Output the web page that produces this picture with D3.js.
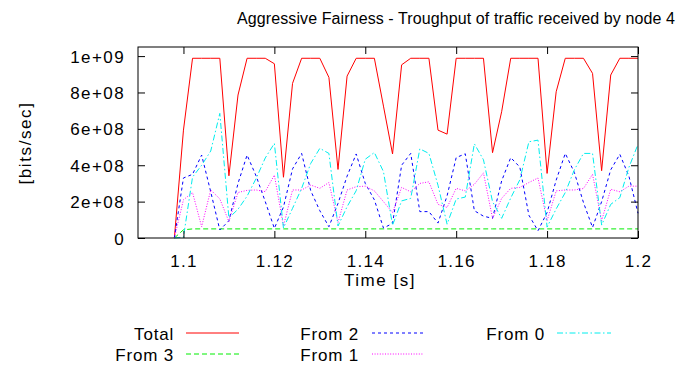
<!DOCTYPE html>
<html>
<head>
<meta charset="utf-8">
<script src="https://cdn.jsdelivr.net/npm/d3@7"></script>
<style>
  html, body { margin: 0; padding: 0; background: #fff; }
  svg { display: block; }
  text { font-family: "Liberation Sans", Arial, sans-serif; fill: #000; }
</style>
</head>
<body>
<svg id="chart" width="699" height="367"></svg>
<script>
// Sample times [s]
const times = [1.098, 1.100, 1.102, 1.104, 1.106, 1.108, 1.110, 1.112, 1.114, 1.116,
  1.118, 1.120, 1.122, 1.124, 1.126, 1.128, 1.130, 1.132, 1.134, 1.136,
  1.138, 1.140, 1.142, 1.144, 1.146, 1.148, 1.150, 1.152, 1.154, 1.156,
  1.158, 1.160, 1.162, 1.164, 1.166, 1.168, 1.170, 1.172, 1.174, 1.176,
  1.178, 1.180, 1.182, 1.184, 1.186, 1.188, 1.190, 1.192, 1.194, 1.196,
  1.198, 1.200];

// Throughput per source, in Mbit/s
const total = [0, 593, 988, 988, 988, 988, 342, 786, 988, 988,
  988, 958, 334, 850, 988, 988, 988, 883, 377, 890,
  988, 988, 988, 725, 462, 952, 988, 988, 988, 593,
  571, 988, 988, 988, 988, 469, 694, 988, 988, 988,
  988, 355, 804, 988, 988, 988, 905, 370, 896, 988,
  988, 988];
const from3 = [0, 45, 50, 50, 50, 50, 50, 50, 50, 50,
  50, 50, 50, 50, 50, 50, 50, 50, 50, 50,
  50, 50, 50, 50, 50, 50, 50, 50, 50, 50,
  50, 50, 50, 50, 50, 50, 50, 50, 50, 50,
  50, 50, 50, 50, 50, 50, 50, 50, 50, 50,
  50, 50];
const from2 = [0, 330, 350, 456, 254, 44, 95, 300, 456, 340,
  200, 53, 170, 380, 465, 260, 150, 62, 190, 340,
  462, 300, 210, 55, 80, 400, 465, 145, 145, 82,
  232, 442, 463, 150, 120, 108, 314, 442, 390, 125,
  40, 140, 318, 465, 360, 195, 58, 200, 375, 460,
  340, 136];
const from1 = [0, 210, 250, 62, 264, 215, 90, 250, 262, 264,
  255, 346, 66, 264, 264, 291, 273, 305, 85, 264,
  282, 285, 259, 200, 140, 278, 254, 300, 309, 185,
  168, 273, 259, 295, 358, 108, 218, 273, 278, 305,
  330, 95, 259, 264, 264, 272, 350, 95, 268, 254,
  285, 285];
const from0 = [0, 5, 335, 400, 478, 685, 110, 158, 230, 328,
  440, 520, 55, 163, 273, 410, 493, 465, 66, 172,
  260, 433, 470, 365, 70, 204, 218, 490, 465, 290,
  76, 214, 225, 518, 430, 200, 108, 220, 320, 529,
  538, 60, 160, 250, 375, 465, 465, 71, 185, 222,
  388, 515];

const seriesNames = ["Total", "From 3", "From 2", "From 1", "From 0"];
const seriesValues = [total, from3, from2, from1, from0];

const xTickValues = [1.1, 1.12, 1.14, 1.16, 1.18, 1.2];
const xTickLabels = ["1.1", "1.12", "1.14", "1.16", "1.18", "1.2"];
const yTickValues = [0, 2e8, 4e8, 6e8, 8e8, 1e9];
const yTickLabels = ["0", "2e+08", "4e+08", "6e+08", "8e+08", "1e+09"];

// Line styles, in series order
const colors = ["#ff0000", "#00ee00", "#0000ff", "#ff00ff", "#00eeee"];
const dashes = [null, "5,3", "3,3", "1,1.6", "6,2.5,1.5,2.5"];

const svg = d3.select("#chart");
const plotLeft = 138, plotRight = 638, plotTop = 47, plotBottom = 238;

const x = d3.scaleLinear().domain([1.09, 1.2]).range([plotLeft, plotRight]);
const y = d3.scaleLinear().domain([0, 1.05e9]).range([plotBottom, plotTop]);

const tickLen = 7;

// Data lines
const line = d3.line()
  .x((d, i) => x(times[i]))
  .y(d => y(d * 1e6));

const plot = svg.append("g");
seriesValues.forEach((vals, s) => {
  plot.append("path")
    .datum(vals)
    .attr("d", line)
    .attr("fill", "none")
    .attr("stroke", colors[s])
    .attr("stroke-width", 1)
    .attr("stroke-dasharray", dashes[s]);
});

// Axes with inward ticks, mirrored on the opposite sides
const fontSize = 17;
const xAxis = svg.append("g").attr("transform", `translate(0,${plotBottom})`)
  .call(d3.axisBottom(x).tickValues(xTickValues)
    .tickFormat((d, i) => xTickLabels[i]).tickSizeInner(-tickLen).tickSizeOuter(0));
xAxis.selectAll("text").attr("y", 29).attr("dy", null)
  .style("font-size", fontSize + "px").style("letter-spacing", "1.3px");

const xAxisTop = svg.append("g").attr("transform", `translate(0,${plotTop})`)
  .call(d3.axisTop(x).tickValues(xTickValues).tickFormat("").tickSizeInner(-tickLen).tickSizeOuter(0));

const yAxis = svg.append("g").attr("transform", `translate(${plotLeft},0)`)
  .call(d3.axisLeft(y).tickValues(yTickValues)
    .tickFormat((d, i) => yTickLabels[i]).tickSizeInner(-tickLen).tickSizeOuter(0).tickPadding(13));
yAxis.selectAll("text").attr("dy", "0.36em")
  .style("font-size", fontSize + "px").style("letter-spacing", "1.4px");

const yAxisRight = svg.append("g").attr("transform", `translate(${plotRight},0)`)
  .call(d3.axisRight(y).tickValues(yTickValues).tickFormat("").tickSizeInner(-tickLen).tickSizeOuter(0));

[xAxis, xAxisTop, yAxis, yAxisRight].forEach(g => {
  g.attr("font-family", null);
  g.select(".domain").remove();
  g.selectAll("line").attr("stroke", "#000");
});

// Plot frame
svg.append("rect")
  .attr("x", plotLeft).attr("y", plotTop)
  .attr("width", plotRight - plotLeft).attr("height", plotBottom - plotTop)
  .attr("fill", "none").attr("stroke", "#000").attr("stroke-width", 1);

// Title and axis labels
svg.append("text")
  .attr("x", 456).attr("y", 24)
  .attr("text-anchor", "middle")
  .style("font-size", "16px").style("letter-spacing", "0.1px")
  .text("Aggressive Fairness - Troughput of traffic received by node 4");

svg.append("text")
  .attr("x", 380).attr("y", 286)
  .attr("text-anchor", "middle")
  .style("font-size", fontSize + "px").style("letter-spacing", "1.5px")
  .text("Time [s]");

svg.append("text")
  .attr("transform", "translate(31,143) rotate(-90)")
  .attr("text-anchor", "middle")
  .style("font-size", fontSize + "px").style("letter-spacing", "1.6px")
  .text("[bits/sec]");

// Legend, filled column by column
const legendCols = [{ textRight: 174, lineX0: 186, lineX1: 239 },
                    { textRight: 359, lineX0: 372, lineX1: 423 },
                    { textRight: 545, lineX0: 557, lineX1: 611 }];
const legendRows = [333, 354];
const legend = svg.append("g");
seriesNames.forEach((name, s) => {
  const col = legendCols[Math.floor(s / 2)];
  const ly = legendRows[s % 2];
  legend.append("text")
    .attr("x", col.textRight).attr("y", ly + 6.5)
    .attr("text-anchor", "end")
    .style("font-size", fontSize + "px").style("letter-spacing", "0.8px")
    .text(name);
  legend.append("line")
    .attr("x1", col.lineX0).attr("x2", col.lineX1)
    .attr("y1", ly).attr("y2", ly)
    .attr("stroke", colors[s]).attr("stroke-width", 1)
    .attr("stroke-dasharray", dashes[s]);
});
</script>
</body>
</html>
